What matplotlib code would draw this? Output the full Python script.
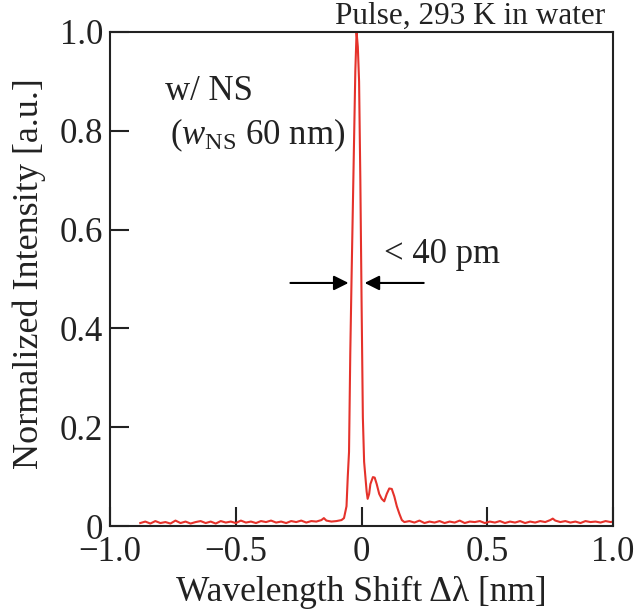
import numpy as np
import matplotlib.pyplot as plt

plt.rc('font', family='Liberation Serif')
plt.rc('mathtext', fontset='custom', rm='Liberation Serif', it='Liberation Serif:italic')

# baseline left of the peak (nm, a.u.)
x_left = [-0.88, -0.86, -0.84, -0.82, -0.80, -0.78, -0.76, -0.74, -0.72, -0.70,
          -0.68, -0.66, -0.64, -0.62, -0.60, -0.58, -0.56, -0.54, -0.52, -0.50,
          -0.48, -0.46, -0.44, -0.42, -0.40, -0.38, -0.36, -0.34, -0.32, -0.30,
          -0.28, -0.26, -0.24, -0.22, -0.20, -0.18, -0.16, -0.15, -0.14, -0.12]
y_left = [0.006, 0.009, 0.005, 0.010, 0.006, 0.008, 0.005, 0.011, 0.006, 0.009,
          0.005, 0.008, 0.010, 0.006, 0.009, 0.005, 0.010, 0.007, 0.009, 0.006,
          0.011, 0.007, 0.009, 0.006, 0.010, 0.008, 0.011, 0.007, 0.009, 0.006,
          0.010, 0.008, 0.011, 0.007, 0.010, 0.009, 0.012, 0.016, 0.011, 0.009]

# main peak and side bumps
x_peak = [-0.10, -0.08, -0.07, -0.06, -0.055, -0.05, -0.045, -0.04, -0.035, -0.03,
          -0.025, -0.02, -0.015, -0.01, -0.005, 0.0, 0.005, 0.01, 0.015, 0.02,
          0.024, 0.03, 0.035, 0.045, 0.052, 0.06, 0.07, 0.08, 0.09, 0.10,
          0.11, 0.12, 0.13, 0.14, 0.15, 0.16]
y_peak = [0.010, 0.012, 0.016, 0.040, 0.100, 0.150, 0.350, 0.500, 0.640, 0.780,
          0.920, 1.000, 0.970, 0.900, 0.700, 0.450, 0.220, 0.130, 0.100, 0.070,
          0.055, 0.065, 0.085, 0.099, 0.098, 0.085, 0.065, 0.055, 0.050, 0.065,
          0.076, 0.075, 0.060, 0.040, 0.025, 0.012]

# baseline right of the peak
x_right = [0.17, 0.19, 0.21, 0.23, 0.25, 0.27, 0.29, 0.31, 0.33, 0.35,
           0.37, 0.39, 0.41, 0.43, 0.45, 0.47, 0.49, 0.51, 0.53, 0.55,
           0.57, 0.59, 0.61, 0.63, 0.65, 0.67, 0.69, 0.71, 0.73, 0.75,
           0.76, 0.77, 0.79, 0.81, 0.83, 0.85, 0.87, 0.89, 0.91, 0.93,
           0.95, 0.97, 0.99, 1.00]
y_right = [0.008, 0.010, 0.007, 0.011, 0.006, 0.009, 0.007, 0.010, 0.006, 0.009,
           0.007, 0.011, 0.006, 0.009, 0.008, 0.010, 0.006, 0.009, 0.007, 0.010,
           0.006, 0.009, 0.007, 0.010, 0.006, 0.009, 0.007, 0.010, 0.008, 0.012,
           0.015, 0.011, 0.008, 0.010, 0.007, 0.009, 0.006, 0.010, 0.008, 0.009,
           0.007, 0.010, 0.008, 0.009]

x = np.array(x_left + x_peak + x_right)
y = np.array(y_left + y_peak + y_right)

fig = plt.figure(figsize=(6.4, 6.13), dpi=100)
ax = fig.add_axes([0.172, 0.1419, 0.786, 0.8059])

ax.plot(x, y, '-', color='#e5322b', lw=1.5)

ax.set_xlim(-1.0, 1.0)
ax.set_ylim(0, 1.0)
ax.set_xticks([-1.0, -0.5, 0, 0.5, 1.0])
ax.set_xticklabels(['\u22121.0', '\u22120.5', '0', '0.5', '1.0'])
ax.set_yticks([0, 0.2, 0.4, 0.6, 0.8, 1.0])
ax.set_yticklabels(['0', '0.2', '0.4', '0.6', '0.8', '1.0'])
ax.tick_params(direction='in', length=14, width=1.5, labelsize=25,
               colors='#222222')
ax.tick_params(axis='x', pad=7)
ax.tick_params(axis='y', pad=5)
for s in ax.spines.values():
    s.set_linewidth(1.5)
    s.set_color('#222222')

ax.set_xlabel('Wavelength Shift \u0394\u03bb [nm]', fontsize=25.5, color='#222222')
ax.set_ylabel('Normalized Intensity [a.u.]', fontsize=26, color='#222222')
ax.xaxis.set_label_coords(0.5, -0.1)
ax.yaxis.set_label_coords(-0.128, 0.51)

ax.text(0.984, 1.016, 'Pulse, 293 K in water', transform=ax.transAxes,
        ha='right', va='baseline', fontsize=22.5, color='#222222')
ax.text(-0.78, 0.88, 'w/ NS', fontsize=25, va='center', color='#222222')
ax.text(-0.76, 0.79, r'($w_{\rm NS}$ 60 nm)', fontsize=25, va='center', color='#222222')
ax.text(0.09, 0.55, '< 40 pm', fontsize=25, va='center', color='#222222')

arrow = dict(arrowstyle='-|>', color='black', lw=1.5, mutation_scale=22,
             shrinkA=0, shrinkB=0)
ax.annotate('', xy=(-0.052, 0.492), xytext=(-0.283, 0.492), arrowprops=arrow)
ax.annotate('', xy=(0.012, 0.492), xytext=(0.247, 0.492), arrowprops=arrow)

plt.savefig('out.png', dpi=100)
plt.close()
